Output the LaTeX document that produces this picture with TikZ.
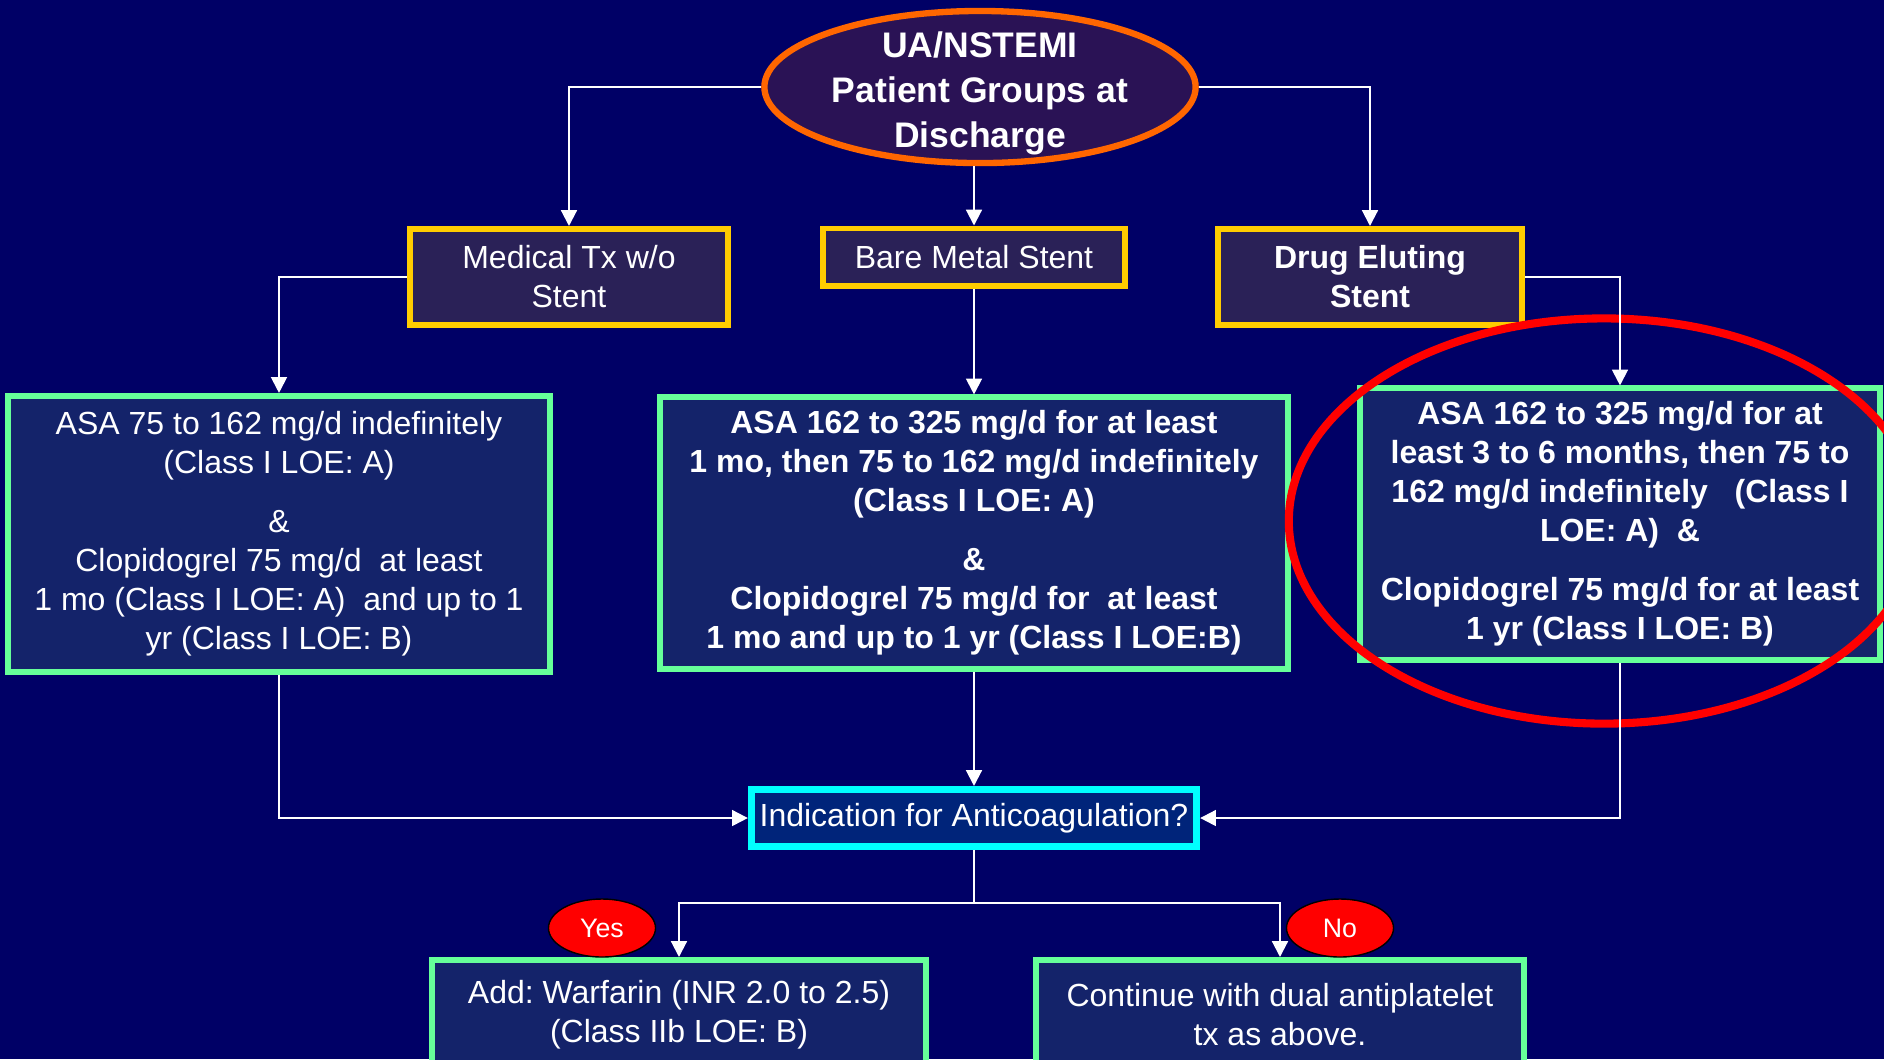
\documentclass[tikz,border=0pt]{standalone}
\usepackage{fontspec}
\setmainfont{Liberation Sans}
\usetikzlibrary{shapes.geometric, arrows.meta, positioning, calc}
\definecolor{bgnavy}{HTML}{000066}
\definecolor{titlefill}{HTML}{2A1255}
\definecolor{titleorange}{HTML}{FF6600}
\definecolor{stentyellow}{HTML}{FFCC00}
\definecolor{stentfill}{HTML}{2A2157}
\definecolor{rxgreen}{HTML}{66FF99}
\definecolor{rxfill}{HTML}{14236A}
\definecolor{askcyan}{HTML}{00FFFF}
\definecolor{askfill}{HTML}{00247A}
\frenchspacing

\begin{document}
\begin{tikzpicture}[x=0.01cm, y=-0.01cm,
    link/.style={draw=white, line width=0.6pt, -{Triangle[width=4.5pt, length=4.5pt]}},
    stentbox/.style={draw=stentyellow, line width=1.7pt, fill=stentfill, text=white, align=center, inner sep=0pt, font=\fontsize{9.1pt}{11.1pt}\selectfont},
    rxbox/.style={draw=rxgreen, line width=1.7pt, fill=rxfill, text=white, align=center, inner sep=0pt, font=\fontsize{9.1pt}{11.1pt}\selectfont},
    askbox/.style={draw=askcyan, line width=2pt, fill=askfill, text=white, align=center, inner sep=0pt, font=\fontsize{9.1pt}{11.1pt}\selectfont},
    answer/.style={draw=black, line width=0.4pt, ellipse, fill=red, text=white, inner sep=0pt, minimum width=1.07cm, minimum height=0.58cm, font=\fontsize{7.6pt}{9pt}\selectfont}]
    \useasboundingbox (0,0) rectangle (1884,1059);
    \clip (0,0) rectangle (1884,1059);
    \fill[bgnavy] (0,0) rectangle (1884,1059);

    % top of the chart
    \node[draw=titleorange, line width=1.8pt, ellipse, fill=titlefill, text=white, align=center, inner xsep=-3pt, inner ysep=-7pt, minimum width=4.31cm, minimum height=1.52cm, font=\fontsize{10.1pt}{12.8pt}\selectfont\bfseries] (title) at (980,87) {\rule{0pt}{11pt}UA/NSTEMI\\Patient Groups at\\Discharge};

    % patient groups
    \node[stentbox, minimum width=3.18cm, minimum height=0.96cm] (medical) at (569,277) {Medical Tx w/o\\Stent};
    \node[stentbox, minimum width=3.01cm, minimum height=0.57cm] (bare) at (974,257) {Bare Metal Stent};
    \node[stentbox, minimum width=3.04cm, minimum height=0.96cm, font=\fontsize{9.1pt}{11.1pt}\selectfont\bfseries] (drug) at (1370,277) {Drug Eluting\\Stent};

    % antiplatelet therapy
    \node[rxbox, minimum width=5.41cm, minimum height=2.76cm] (leftrx) at (279,534) {ASA 75 to 162 mg/d indefinitely\\(Class I LOE: A)\\[5.6pt]\&\\Clopidogrel 75 mg/d \ at least\\1 mo (Class I LOE: A) \ and up to 1\\yr (Class I LOE: B)};
    \node[rxbox, minimum width=6.27cm, minimum height=2.71cm, font=\fontsize{9.1pt}{11.1pt}\selectfont\bfseries] (midrx) at (974,533) {ASA 162 to 325 mg/d for at least\\1 mo, then 75 to 162 mg/d indefinitely\\(Class I LOE: A)\\[5.6pt]\&\\Clopidogrel 75 mg/d for \ at least\\1 mo and up to 1 yr (Class I LOE:B)};
    \node[rxbox, minimum width=5.19cm, minimum height=2.71cm, font=\fontsize{9.1pt}{11.1pt}\selectfont\bfseries] (rightrx) at (1620,524) {ASA 162 to 325 mg/d for at\\least 3 to 6 months, then 75 to\\162 mg/d indefinitely \ \ (Class I\\LOE: A) \ \&\\[5.6pt]Clopidogrel 75 mg/d for at least\\1 yr (Class I LOE: B)};

    % anticoagulation
    \node[askbox, minimum width=4.45cm, minimum height=0.57cm] (anticoag) at (974,818) {Indication for Anticoagulation?};
    \node[rxbox, minimum width=4.94cm, minimum height=1.1cm] (warfarin) at (679,1015) {Add: Warfarin (INR 2.0 to 2.5)\\(Class IIb LOE: B)};
    \node[rxbox, minimum width=4.87cm, minimum height=1.1cm] (dual) at (1280,1015) {Continue with dual antiplatelet\\tx as above.};
    \node[answer] (yes) at (602,928) {Yes};
    \node[answer] (no) at (1340,928) {No};

    % highlight
    \node[draw=red, line width=2.3pt, ellipse, minimum width=6.3cm, minimum height=4.05cm] (focus) at (1604,521) {};

    \coordinate (fork) at (974,903);
    \draw[link] (title.west) -| (medical.north);
    \draw[link] (title.east) -| (drug.north);
    \draw[link] (bare.north |- title.south) -- (bare.north);
    \draw[link] (medical.west) -| (leftrx.north);
    \draw[link] (bare.south) -- (midrx.north);
    \draw[link] (drug.east) -| (rightrx.north);
    \draw[link] (leftrx.south) |- (anticoag.west);
    \draw[link] (midrx.south) -- (anticoag.north);
    \draw[link] (rightrx.south) |- (anticoag.east);
    \draw[draw=white, line width=0.6pt] (anticoag.south) -- (fork);
    \draw[link] (fork) -| (warfarin.north);
    \draw[link] (fork) -| (dual.north);
\end{tikzpicture}
\end{document}
